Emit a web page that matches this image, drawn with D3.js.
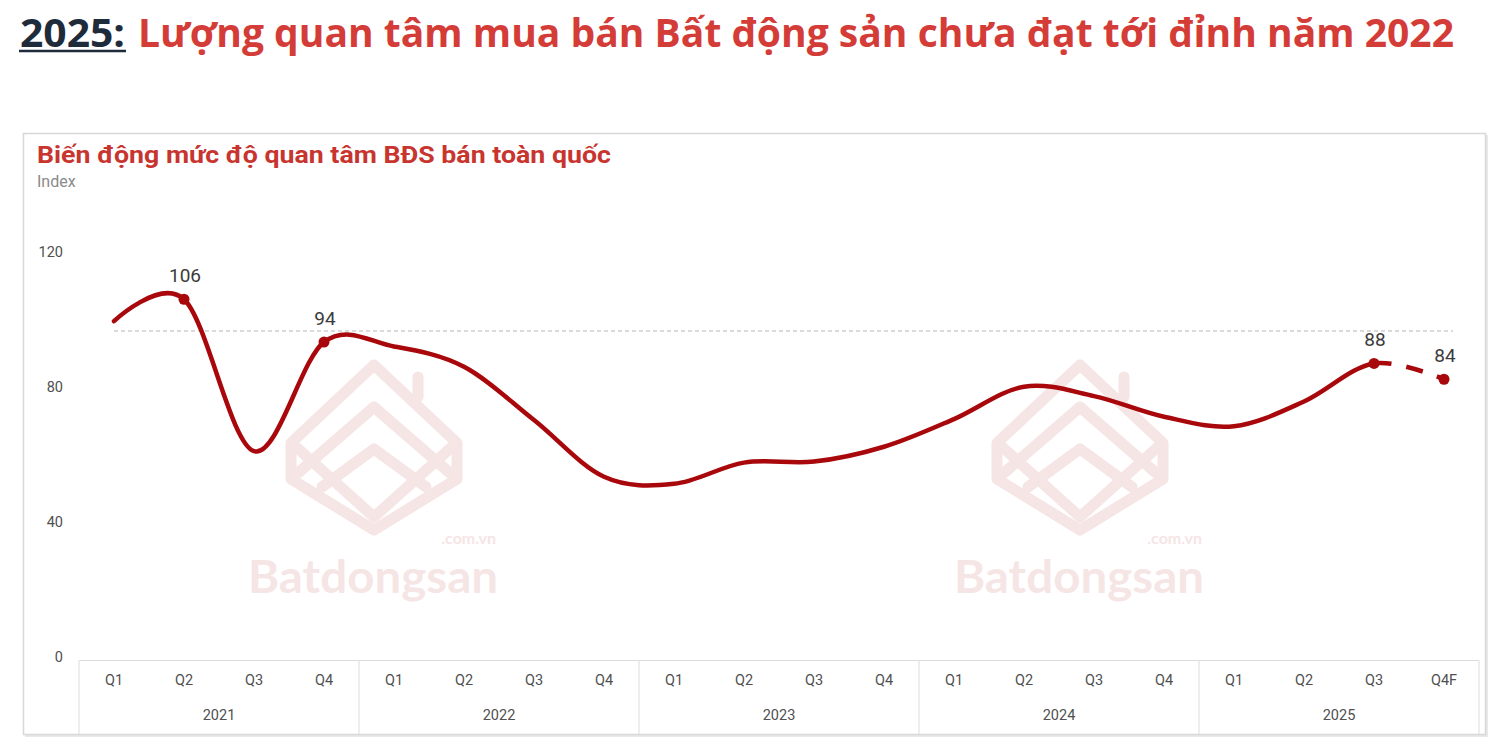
<!DOCTYPE html>
<html><head><meta charset="utf-8">
<script src="https://cdn.jsdelivr.net/npm/d3@7"></script>
<style>html,body{margin:0;padding:0;background:#fff;}svg{display:block;}</style>
</head><body>
<svg id="chart" width="1502" height="747"></svg>
<script>
// ---- data ----
const years = ["2021", "2022", "2023", "2024", "2025"];
const quarterLabels = ["Q1","Q2","Q3","Q4","Q1","Q2","Q3","Q4","Q1","Q2","Q3","Q4","Q1","Q2","Q3","Q4","Q1","Q2","Q3","Q4F"];
const values = [99.5, 106, 61, 93.3, 92, 86, 70.2, 53.4, 51.3, 57.6, 57.9, 62.3, 70.5, 80.1, 77.3, 71.2, 68.4, 75.7, 87, 82.3];
const labelIndex = [1, 3, 18, 19];
const labelText = ["106", "94", "88", "84"];
const forecastFrom = 18;
const refValue = 96.6;
const yTicks = [0, 40, 80, 120];
const mainTitleA = "2025:";
const mainTitleB = "Lượng quan tâm mua bán Bất động sản chưa đạt tới đỉnh năm 2022";
const chartTitle = "Biến động mức độ quan tâm BĐS bán toàn quốc";
const unitLabel = "Index";

// ---- setup ----
const svg = d3.select("#chart");
const keys = quarterLabels.map((q, i) => years[Math.floor(i / 4)] + "-" + q);
const data = keys.map((k, i) => ({key: k, q: quarterLabels[i], v: values[i], i}));

const x = d3.scaleBand().domain(keys).range([79, 1479]).padding(0);
const cx = k => x(k) + x.bandwidth() / 2;
const y = d3.scaleLinear().domain([0, 120]).range([657, 252]);

// ---- main title ----
svg.append("text").attr("x", 20).attr("y", 47)
  .attr("font-family", "'Open Sans', sans-serif").attr("font-weight", 700).attr("font-size", 40)
  .attr("fill", "#1e2b3b").attr("textLength", 105).attr("lengthAdjust", "spacingAndGlyphs")
  .text(mainTitleA);
svg.append("line").attr("x1", 19).attr("x2", 126).attr("y1", 51).attr("y2", 51)
  .attr("stroke", "#1e2b3b").attr("stroke-width", 2.6);
svg.append("text").attr("x", 138).attr("y", 47)
  .attr("font-family", "'Open Sans', sans-serif").attr("font-weight", 700).attr("font-size", 40)
  .attr("fill", "#d43c38").attr("textLength", 1316).attr("lengthAdjust", "spacingAndGlyphs")
  .text(mainTitleB);

// ---- panel ----
svg.append("rect").attr("x", 25).attr("y", 135).attr("width", 1463).attr("height", 602)
  .attr("fill", "#e9e9e9");
svg.append("rect").attr("x", 23.5).attr("y", 133.5).attr("width", 1462).attr("height", 601)
  .attr("fill", "#fff").attr("stroke", "#d8d8d8").attr("stroke-width", 1.5);

// ---- watermarks ----
const wmCenters = [374, 1080];
const wmColor = "#f6e5e5";
wmCenters.forEach(c => {
  const g = svg.append("g").attr("transform", `translate(${c},447)`)
    .attr("fill", "none").attr("stroke", wmColor).attr("stroke-width", 11)
    .attr("stroke-linejoin", "round").attr("stroke-linecap", "round");
  g.append("path").attr("d", "M0,-82 L83,-4 L83,32 L0,83 L-83,32 L-83,-4 Z");
  g.append("path").attr("d", "M-76,26 L0,-40 L76,26");
  g.append("path").attr("d", "M-80,-2 L0,70 L80,-2");
  g.append("path").attr("d", "M-52,40 L0,2 L52,40");
  g.append("path").attr("d", "M44,-70 L44,-50");
  svg.append("text").attr("x", c + 122).attr("y", 544).attr("text-anchor", "end")
    .attr("font-family", "Lato, sans-serif").attr("font-weight", 700).attr("font-size", 16)
    .attr("fill", wmColor).text(".com.vn");
  const t = svg.append("text").attr("x", c - 1).attr("y", 593).attr("text-anchor", "middle")
    .attr("font-family", "Lato, sans-serif").attr("font-weight", 700).attr("font-size", 45)
    .attr("fill", wmColor).text("Batdongsan");
  t.attr("textLength", 250).attr("lengthAdjust", "spacingAndGlyphs");
});

// ---- chart title ----
const ct = svg.append("text").attr("x", 37).attr("y", 163)
  .attr("font-family", "Roboto, sans-serif").attr("font-weight", 700).attr("font-size", 23)
  .attr("fill", "#c8352f").text(chartTitle);
ct.attr("textLength", 574).attr("lengthAdjust", "spacingAndGlyphs");
svg.append("text").attr("x", 37).attr("y", 187)
  .attr("font-family", "Roboto, sans-serif").attr("font-size", 16)
  .attr("fill", "#8a8a8a").text(unitLabel);

// ---- y axis ----
const yAxis = d3.axisLeft(y).tickValues(yTicks).tickSize(0).tickPadding(0).tickFormat(d3.format("d"));
const gy = svg.append("g").attr("transform", "translate(63,0)").call(yAxis);
gy.select(".domain").remove();
gy.selectAll("text").attr("font-family", "Roboto, sans-serif").attr("font-size", 14.5).attr("fill", "#505050");

// ---- x axis (grouped) ----
const xAxisG = svg.append("g");
xAxisG.append("line").attr("x1", 79).attr("x2", 1479).attr("y1", 660.5).attr("y2", 660.5)
  .attr("stroke", "#dcdcdc").attr("stroke-width", 1.2);
const bounds = years.map((yr, i) => x(keys[i * 4]));
bounds.push(x(keys[keys.length - 1]) + x.bandwidth());
xAxisG.selectAll("line.sep").data(bounds).join("line").attr("class", "sep")
  .attr("x1", d => d).attr("x2", d => d).attr("y1", 660.5).attr("y2", 734)
  .attr("stroke", "#e2e2e2").attr("stroke-width", 1.2);
xAxisG.selectAll("text.q").data(data).join("text").attr("class", "q")
  .attr("x", d => cx(d.key)).attr("y", 685).attr("text-anchor", "middle")
  .attr("font-family", "Roboto, sans-serif").attr("font-size", 14.5).attr("fill", "#505050")
  .text(d => d.q);
xAxisG.selectAll("text.yr").data(years).join("text").attr("class", "yr")
  .attr("x", (d, i) => (x(keys[i * 4]) + x(keys[i * 4 + 3]) + x.bandwidth()) / 2)
  .attr("y", 720).attr("text-anchor", "middle")
  .attr("font-family", "Roboto, sans-serif").attr("font-size", 14.5).attr("fill", "#505050")
  .text(d => d);

// ---- reference line ----
svg.append("line").attr("x1", cx(keys[0])).attr("x2", cx(keys[keys.length - 1]) + 9)
  .attr("y1", y(refValue)).attr("y2", y(refValue))
  .attr("stroke", "#b5b5b5").attr("stroke-width", 1).attr("stroke-dasharray", "4,3");

// ---- line ----
const line = d3.line().x(d => cx(d.key)).y(d => y(d.v)).curve(d3.curveCardinal.tension(0));
const splitX = cx(keys[forecastFrom]);
const defs = svg.append("defs");
defs.append("clipPath").attr("id", "clipSolid").append("rect")
  .attr("x", 0).attr("y", 0).attr("width", splitX).attr("height", 747);
defs.append("clipPath").attr("id", "clipDash").append("rect")
  .attr("x", splitX).attr("y", 0).attr("width", 1502 - splitX).attr("height", 747);
const lineColor = "#a8080b";
svg.append("path").datum(data).attr("d", line).attr("fill", "none")
  .attr("stroke", lineColor).attr("stroke-width", 4.5).attr("stroke-linecap", "round")
  .attr("clip-path", "url(#clipSolid)");
svg.append("path").datum(data).attr("fill", "none").attr("d", line)
  .attr("stroke", lineColor).attr("stroke-width", 4.5)
  .attr("clip-path", "url(#clipDash)").attr("id", "dashPath");
// dash pattern starting at the split point
(function(){
  const p = svg.select("#dashPath").node();
  const total = p.getTotalLength();
  let lo = 0, hi = total;
  for (let k = 0; k < 40; k++) { const m = (lo + hi) / 2; if (p.getPointAtLength(m).x < splitX) lo = m; else hi = m; }
  svg.select("#dashPath").attr("stroke-dasharray", `0,${lo},17,15,17,15,17,15,17,15`);
})();

// ---- markers & labels ----
const labelled = labelIndex.map((idx, j) => ({d: data[idx], t: labelText[j]}));
svg.selectAll("circle.dot").data(labelled).join("circle").attr("class", "dot")
  .attr("cx", o => cx(o.d.key)).attr("cy", o => y(o.d.v)).attr("r", 5.5).attr("fill", lineColor);
svg.selectAll("text.lbl").data(labelled).join("text").attr("class", "lbl")
  .attr("x", o => cx(o.d.key) + 1).attr("y", o => y(o.d.v) - 17).attr("text-anchor", "middle")
  .attr("font-family", "Roboto, sans-serif").attr("font-size", 19).attr("fill", "#3b3b3b")
  .text(o => o.t);
</script>
</body></html>
